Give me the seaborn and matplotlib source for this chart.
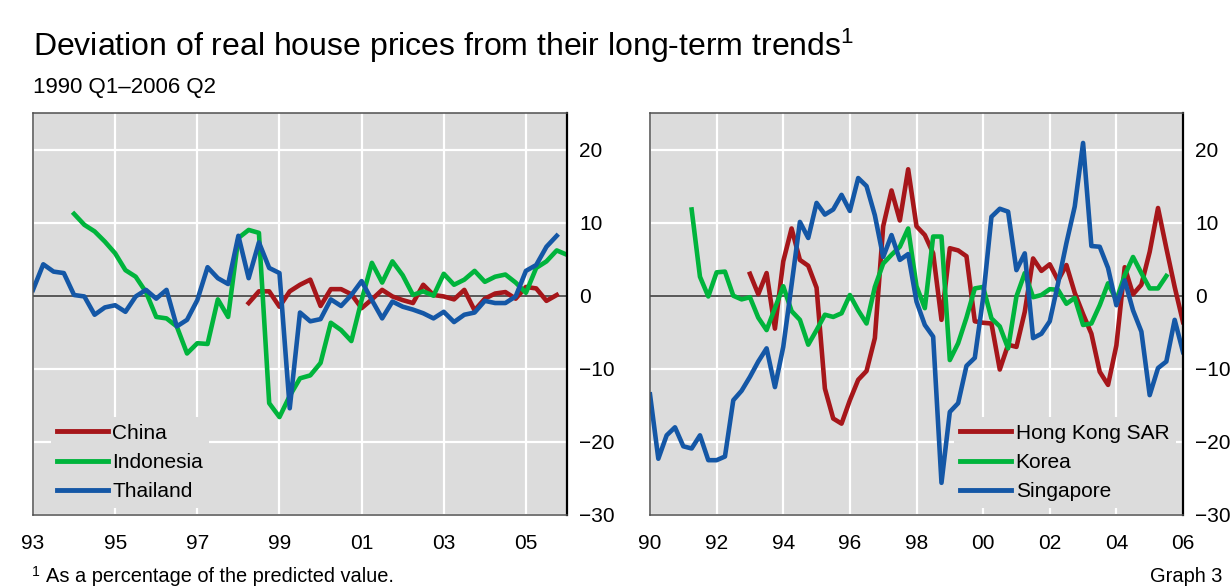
import pandas as pd
import matplotlib
matplotlib.use("Agg")
import matplotlib.pyplot as plt
import seaborn as sns

# quarterly deviations (%)
CHINA_START = "1998Q2"
CHINA = [
    -1.0, 0.6, 0.6,
    -1.5, 0.6, 1.5, 2.2,
    -1.4, 0.9, 0.9, 0.2,
    -1.7, -0.5, 0.8, -0.1,
    -0.6, -1.0, 1.5, 0.1,
    -0.1, -0.5, 0.8, -2.0,
    -0.4, 0.3, 0.5, -0.4,
    1.2, 1.0, -0.7, 0.1,
]
INDONESIA_START = "1994Q1"
INDONESIA = [
    11.2, 9.7, 8.8, 7.4,
    5.8, 3.5, 2.6, 0.5,
    -2.9, -3.1, -4.2, -7.9,
    -6.5, -6.6, -0.5, -2.9,
    7.9, 9.0, 8.6, -14.7,
    -16.6, -13.7, -11.3, -10.9,
    -9.2, -3.7, -4.7, -6.2,
    -0.6, 4.5, 1.8, 4.7,
    2.8, 0.1, 0.6, 0.0,
    3.0, 1.5, 2.2, 3.4,
    1.9, 2.6, 2.9, 1.8,
    0.4, 3.8, 4.7, 6.2,
    5.6,
]
THAILAND_START = "1993Q1"
THAILAND = [
    0.8, 4.3, 3.3, 3.1,
    0.1, -0.1, -2.6, -1.6,
    -1.3, -2.2, -0.1, 0.8,
    -0.4, 0.8, -4.2, -3.3,
    -0.6, 3.9, 2.4, 1.6,
    8.2, 2.4, 7.3, 3.8,
    3.1, -15.4, -2.3, -3.5,
    -3.2, -0.5, -1.4, 0.1,
    2.0, -0.6, -3.1, -0.8,
    -1.5, -1.9, -2.4, -3.1,
    -2.2, -3.6, -2.6, -2.3,
    -0.7, -1.0, -1.0, -0.1,
    3.4, 4.2, 6.7, 8.2,
]

HONG_KONG_START = "1993Q1"
HONG_KONG = [
    3.0, 0.2, 3.1, -4.5,
    4.7, 9.2, 4.9, 4.1,
    1.1, -12.7, -16.8, -17.5,
    -14.3, -11.5, -10.3, -5.8,
    9.5, 14.4, 10.3, 17.3,
    9.5, 8.3, 5.8, -3.3,
    6.5, 6.2, 5.4, -3.5,
    -3.7, -3.8, -10.1, -6.7,
    -7.0, -2.2, 5.1, 3.4,
    4.3, 2.1, 4.2, 0.4,
    -2.5, -5.2, -10.4, -12.2,
    -6.8, 3.9, 0.2, 1.5,
    6.0, 12.0, 6.5, 1.2,
    -3.6,
]
KOREA_START = "1991Q2"
KOREA = [
    11.8, 2.6, -0.1,
    3.2, 3.3, 0.0, -0.5,
    -0.2, -3.0, -4.7, -1.7,
    1.3, -2.1, -3.3, -6.7,
    -4.7, -2.6, -2.9, -2.4,
    0.1, -2.0, -3.8, 1.2,
    4.4, 5.6, 6.7, 9.2,
    1.3, -1.7, 8.1, 8.1,
    -8.8, -6.5, -3.0, 1.0,
    1.2, -3.1, -4.2, -7.2,
    -0.1, 3.1, -0.2, 0.1,
    0.9, 0.8, -1.1, -0.3,
    -4.0, -3.8, -1.3, 1.7,
    -0.6, 2.8, 5.3, 3.1,
    1.0, 1.0, 2.7,
]
SINGAPORE_START = "1990Q1"
SINGAPORE = [
    -13.5, -22.3, -19.1, -18.0,
    -20.6, -20.9, -19.1, -22.5,
    -22.5, -22.0, -14.3, -13.0,
    -11.1, -9.0, -7.2, -12.5,
    -7.0, 1.5, 10.1, 7.9,
    12.7, 11.1, 11.8, 13.8,
    11.6, 16.1, 15.0, 11.0,
    5.3, 8.3, 4.9, 5.7,
    -0.8, -4.0, -5.6, -25.6,
    -15.9, -14.7, -9.6, -8.5,
    -0.3, 10.8, 11.9, 11.5,
    3.5, 5.8, -5.8, -5.2,
    -3.5, 1.7, 7.2, 12.2,
    20.9, 6.8, 6.7, 3.8,
    -1.3, 2.1, -2.0, -4.9,
    -13.6, -9.9, -9.0, -3.3,
    -7.7,
]

LEFT_YEAR_TICKS = [1993, 1995, 1997, 1999, 2001, 2003, 2005]
RIGHT_YEAR_TICKS = [1990, 1992, 1994, 1996, 1998, 2000, 2002, 2004, 2006]
VALUE_TICKS = [-30, -20, -10, 0, 10, 20]

RED = "#A6161A"
GREEN = "#00B43C"
BLUE = "#1457A6"
PANEL_BG = "#DCDCDC"


def quarter_positions(start, count):
    periods = pd.period_range(start, periods=count, freq="Q")
    return periods.year + (periods.quarter - 1) / 4


def build_frame(series):
    parts = []
    for name, start, values in series:
        parts.append(pd.DataFrame({
            "date": quarter_positions(start, len(values)),
            "value": values,
            "series": name,
        }))
    return pd.concat(parts, ignore_index=True)


def draw_panel(ax, frame, palette, year_ticks, x_limits, legend_x):
    sns.lineplot(
        data=frame, x="date", y="value", hue="series", palette=palette,
        linewidth=3.3, ax=ax, sort=False, estimator=None,
    )
    ax.set_facecolor(PANEL_BG)
    ax.set_xlim(*x_limits)
    ax.set_ylim(-30, 25)
    ax.set_xticks(year_ticks)
    ax.set_xticklabels([f"{y % 100:02d}" for y in year_ticks])
    ax.set_yticks(VALUE_TICKS)
    ax.yaxis.tick_right()
    ax.set_xlabel("")
    ax.set_ylabel("")
    ax.grid(True, color="white", linewidth=1.6)
    ax.set_axisbelow(True)
    ax.axhline(0, color="#4a4a4a", linewidth=1.3, zorder=1.5)
    ax.tick_params(axis="both", length=0, labelsize=15, colors="black")
    ax.tick_params(axis="y", pad=9)
    ax.tick_params(axis="x", pad=14)
    for side, spine in ax.spines.items():
        spine.set_visible(True)
        spine.set_color("#505050")
        spine.set_linewidth(1.1)
    ax.spines["right"].set_color("black")
    ax.spines["right"].set_linewidth(1.6)

    handles, labels = ax.get_legend_handles_labels()
    legend = ax.legend(
        handles, labels, loc="lower left", bbox_to_anchor=(legend_x, 0.0),
        frameon=True, facecolor=PANEL_BG, edgecolor="none", framealpha=1,
        fontsize=15, handlelength=2.45, handletextpad=0.2,
        labelspacing=0.5, borderpad=0.3, borderaxespad=0.35,
    )
    for line in legend.get_lines():
        line.set_linewidth(3.5)


plt.rcParams["font.family"] = ["Liberation Sans", "DejaVu Sans"]
plt.rcParams["mathtext.default"] = "regular"

fig = plt.figure(figsize=(12.3, 5.88), dpi=100)
fig.patch.set_facecolor("white")

left_ax = fig.add_axes([33 / 1230, 1 - 515 / 588, 534 / 1230, 402 / 588])
right_ax = fig.add_axes([650 / 1230, 1 - 515 / 588, 533 / 1230, 402 / 588])

left_frame = build_frame([
    ("China", CHINA_START, CHINA),
    ("Indonesia", INDONESIA_START, INDONESIA),
    ("Thailand", THAILAND_START, THAILAND),
])
right_frame = build_frame([
    ("Hong Kong SAR", HONG_KONG_START, HONG_KONG),
    ("Korea", KOREA_START, KOREA),
    ("Singapore", SINGAPORE_START, SINGAPORE),
])

draw_panel(left_ax, left_frame,
           {"China": RED, "Indonesia": GREEN, "Thailand": BLUE},
           LEFT_YEAR_TICKS, (1993, 2006), 0.02)
draw_panel(right_ax, right_frame,
           {"Hong Kong SAR": RED, "Korea": GREEN, "Singapore": BLUE},
           RIGHT_YEAR_TICKS, (1990, 2006), 0.557)

fig.text(33 / 1230, 1 - 46 / 588,
         "Deviation of real house prices from their long-term trends$^1$",
         fontsize=23, va="center", ha="left")
fig.text(33 / 1230, 1 - 88 / 588, "1990 Q1\u20132006 Q2",
         fontsize=16, va="center", ha="left")
fig.text(31 / 1230, 1 - 576 / 588, "$^1$",
         fontsize=14.4, va="center", ha="left")
fig.text(46 / 1230, 1 - 576 / 588, "As a percentage of the predicted value.",
         fontsize=14.4, va="center", ha="left")
fig.text(1222 / 1230, 1 - 576 / 588, "Graph 3",
         fontsize=14.4, va="center", ha="right")

fig.savefig("out.png", dpi=100)
